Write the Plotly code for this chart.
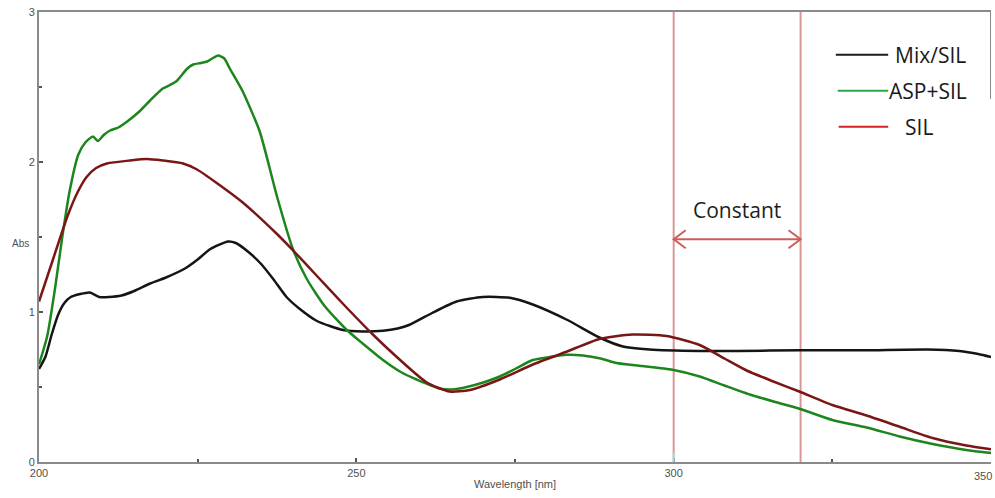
import plotly.graph_objects as go

# ---- spectra (wavelength in nm, absorbance) ----
wl_mix = [200, 201, 202, 203, 204, 205, 206.5, 208, 209.5, 211, 213, 215, 217.5, 220, 223, 225,
          227, 229.8, 231, 233, 235, 236.9, 239, 241.1, 243.8, 247.9, 251, 254.2, 256.5, 258.4,
          262, 265.8, 269.9, 274.2, 277.8, 283.1, 288.3, 292, 296.2, 304.1, 310, 320, 330, 340,
          345, 348, 350]
abs_mix = [0.62, 0.70, 0.85, 0.98, 1.06, 1.10, 1.12, 1.13, 1.10, 1.10, 1.11, 1.14, 1.19, 1.23,
           1.29, 1.35, 1.42, 1.47, 1.46, 1.40, 1.32, 1.22, 1.10, 1.02, 0.94, 0.88, 0.87, 0.875,
           0.89, 0.915, 0.995, 1.07, 1.10, 1.095, 1.05, 0.95, 0.83, 0.77, 0.75, 0.74, 0.74,
           0.745, 0.745, 0.75, 0.74, 0.72, 0.70]

wl_asp = [200, 201.3, 202.5, 203.6, 204.8, 206.2, 207.3, 208.5, 209.3, 210.2, 211.2, 212.5,
          213.9, 215.9, 217.5, 219.5, 220.5, 221.7, 223.3, 224.3, 225.5, 226.5, 227.3, 228.2,
          229.2, 230.1, 232.1, 234.8, 237.5, 240, 242.2, 245, 248.5, 251, 254.2, 257, 259.5,
          263.1, 265.5, 267.4, 270, 272.6, 275, 277.8, 280.5, 283.1, 285.7, 288.5, 291, 295,
          299.8, 304.1, 308, 312, 316, 319.8, 325, 330.4, 335.6, 340.8, 346.1, 350]
abs_asp = [0.65, 0.84, 1.15, 1.48, 1.80, 2.05, 2.13, 2.17, 2.14, 2.18, 2.21, 2.23, 2.27, 2.34,
           2.41, 2.49, 2.51, 2.54, 2.62, 2.65, 2.66, 2.67, 2.69, 2.71, 2.69, 2.62, 2.47, 2.20,
           1.77, 1.42, 1.22, 1.04, 0.88, 0.79, 0.68, 0.60, 0.55, 0.49, 0.485, 0.50, 0.53, 0.57,
           0.62, 0.68, 0.70, 0.715, 0.71, 0.69, 0.66, 0.64, 0.615, 0.57, 0.51, 0.45, 0.40,
           0.355, 0.28, 0.23, 0.17, 0.12, 0.08, 0.06]

wl_sil = [200, 202.2, 204.5, 206.1, 207.5, 209, 210.7, 214.3, 217, 219.5, 222.7, 224.9, 228,
          232.1, 237.5, 240.5, 243.8, 248, 252.6, 256.9, 261.1, 264.7, 267.9, 272.6, 277.8,
          283.1, 288.3, 293.5, 298.9, 304.1, 308, 311.5, 315.5, 319.8, 325, 330.4, 335.6,
          340.8, 346.1, 350]
abs_sil = [1.07, 1.35, 1.64, 1.80, 1.90, 1.96, 1.99, 2.01, 2.02, 2.01, 1.99, 1.95, 1.86, 1.73,
           1.52, 1.39, 1.24, 1.05, 0.85, 0.68, 0.53, 0.47, 0.48, 0.55, 0.65, 0.735, 0.82, 0.85,
           0.84, 0.78, 0.69, 0.61, 0.54, 0.47, 0.38, 0.31, 0.235, 0.16, 0.11, 0.085]

# wavelength window marked as constant
band = [300, 320]
band_label = "Constant"

legend_names = ["Mix/SIL", "ASP+SIL", "SIL"]

x_ticks = [200, 250, 300, 350]
y_ticks = [0, 1, 2, 3]

AXIS = "#8a8a8a"
TICKFONT = dict(family="Liberation Sans, Arial, sans-serif", size=11, color="#505050")

fig = go.Figure()
for wl, ab, col in [(wl_mix, abs_mix, "#151515"),
                    (wl_asp, abs_asp, "#1c861c"),
                    (wl_sil, abs_sil, "#7a1616")]:
    fig.add_trace(go.Scatter(x=wl, y=ab, mode="lines",
                             line=dict(color=col, width=2.5, shape="spline", smoothing=0.6),
                             showlegend=False, hoverinfo="skip"))

# band boundaries
for xv in band:
    fig.add_shape(type="line", x0=xv, x1=xv, y0=0, y1=3, xref="x", yref="y",
                  line=dict(color="rgba(214,130,130,0.85)", width=2), layer="below")
fig.add_shape(type="line", x0=band[0], x1=band[0], y0=0, y1=0.06, xref="x", yref="y",
              line=dict(color="#8fe3e6", width=2))

# double-headed arrow across the band
ay = 1.485
arm_x, arm_y = 1.9, 0.06
acol = "#cf5c5c"
fig.add_shape(type="line", x0=band[0], x1=band[1], y0=ay, y1=ay, xref="x", yref="y",
              line=dict(color=acol, width=2))
fig.add_shape(type="path", xref="x", yref="y", line=dict(color=acol, width=2),
              path=f"M {band[0]+arm_x},{ay+arm_y} L {band[0]},{ay} L {band[0]+arm_x},{ay-arm_y}")
fig.add_shape(type="path", xref="x", yref="y", line=dict(color=acol, width=2),
              path=f"M {band[1]-arm_x},{ay+arm_y} L {band[1]},{ay} L {band[1]-arm_x},{ay-arm_y}")
fig.add_annotation(x=(band[0] + band[1]) / 2, y=1.68, xref="x", yref="y", text=band_label,
                   showarrow=False,
                   font=dict(family="Open Sans, sans-serif", size=21, color="#1e1e1e"))

# partial right frame edge
fig.add_shape(type="line", x0=350, x1=350, y0=3, y1=2.42, xref="x", yref="y",
              line=dict(color=AXIS, width=2))

# hand-drawn style legend
leg_cols = ["#1a1a1a", "#2aa84a", "#d42424"]
leg_y = [0.905, 0.825, 0.745]
leg_x0 = [0.837, 0.839, 0.840]
leg_tx = [0.897, 0.891, 0.908]
for name, c, yy, x0, tx in zip(legend_names, leg_cols, leg_y, leg_x0, leg_tx):
    fig.add_shape(type="line", xref="paper", yref="paper", x0=x0, x1=0.892, y0=yy, y1=yy,
                  line=dict(color=c, width=2))
    fig.add_annotation(xref="paper", yref="paper", x=tx, y=yy, text=name, showarrow=False,
                       xanchor="left", yanchor="middle",
                       font=dict(family="Open Sans, sans-serif", size=21, color="#1a1a1a"))

# axis titles and the end label at the right edge
fig.add_annotation(xref="paper", yref="paper", x=-0.008, y=0.485, text="Abs", showarrow=False,
                   xanchor="right", yanchor="middle",
                   font=dict(family="Liberation Sans, Arial, sans-serif", size=10, color="#505050"))
fig.add_annotation(xref="x", yref="paper", x=x_ticks[-1], y=0, yshift=-6, xshift=3,
                   text=str(x_ticks[-1]), showarrow=False, xanchor="right", yanchor="top",
                   font=TICKFONT)

fig.update_layout(
    width=995, height=498,
    margin=dict(l=39, r=4, t=12, b=36),
    paper_bgcolor="white", plot_bgcolor="white",
    xaxis=dict(range=[200, 350], tickvals=x_ticks[:-1], ticks="inside", ticklen=4, tickwidth=1.5,
               tickcolor="#555", showline=True, linecolor=AXIS, linewidth=2, mirror=True,
               showgrid=False, zeroline=False, tickfont=TICKFONT,
               minor=dict(dtick=25, ticks="inside", ticklen=3, tickcolor="#555"),
               title=dict(text="Wavelength [nm]", font=TICKFONT, standoff=2)),
    yaxis=dict(range=[0, 3], tickvals=y_ticks, ticks="inside", ticklen=4, tickwidth=1.5,
               tickcolor="#555", showline=True, linecolor=AXIS, linewidth=2,
               showgrid=False, zeroline=False, tickfont=TICKFONT,
               minor=dict(dtick=0.5, ticks="inside", ticklen=3, tickcolor="#555")),
)

fig.write_html("out.html")
